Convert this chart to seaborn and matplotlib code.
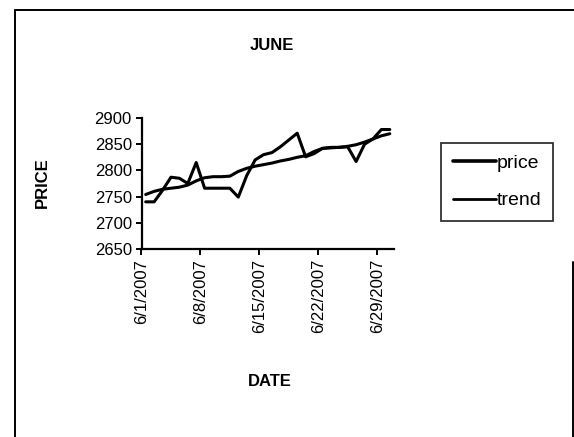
import matplotlib
matplotlib.use("Agg")
import matplotlib.pyplot as plt
import seaborn as sns
import pandas as pd
from matplotlib.lines import Line2D

# Daily closing price and its trend for June 2007 (each day plotted mid-slot)
dates = pd.date_range("2007-06-01 12:00", "2007-06-30 12:00", freq="D")
price = [2740, 2740, 2762, 2787, 2785, 2775, 2815, 2766, 2766, 2766,
         2766, 2749, 2790, 2820, 2830, 2834, 2845, 2858, 2871, 2826,
         2832, 2842, 2843, 2844, 2845, 2817, 2850, 2860, 2878, 2878]
trend = [2754, 2760, 2764, 2766, 2768, 2772, 2780, 2786, 2788, 2788,
         2789, 2798, 2804, 2808, 2811, 2814, 2818, 2821, 2825, 2828,
         2836, 2842, 2844, 2844, 2846, 2849, 2854, 2860, 2866, 2870]
tick_dates = ["2007-06-01", "2007-06-08", "2007-06-15", "2007-06-22", "2007-06-29"]
tick_labels = ["6/1/2007", "6/8/2007", "6/15/2007", "6/22/2007", "6/29/2007"]
y_ticks = [2650, 2700, 2750, 2800, 2850, 2900]

df = pd.DataFrame({"DATE": list(dates) * 2,
                   "PRICE": price + trend,
                   "series": ["price"] * len(price) + ["trend"] * len(trend)})

sns.set_style("white")
plt.rcParams["font.family"] = ["Liberation Sans", "DejaVu Sans"]
plt.rcParams.update({"text.color": "black", "axes.labelcolor": "black",
                     "xtick.color": "black", "ytick.color": "black"})

fig = plt.figure(figsize=(5.74, 4.37), dpi=100)
W, H = 574, 437
ax = fig.add_axes([141.5 / W, 1 - 249 / H, (394 - 141.5) / W, (249 - 118) / H])

sns.lineplot(data=df, x="DATE", y="PRICE", hue="series",
             palette={"price": "black", "trend": "black"},
             linewidth=2.2, ax=ax, legend=False)

ax.set_xlim(pd.Timestamp("2007-06-01"), pd.Timestamp("2007-07-01"))
ax.set_ylim(2650, 2900)
ax.set_yticks(y_ticks)
ax.set_yticklabels([str(v) for v in y_ticks], fontsize=12)
ax.set_xticks([pd.Timestamp(d) for d in tick_dates])
ax.set_xticklabels(tick_labels, rotation=90, fontsize=12, va="top", ha="center")
ax.set_xlabel("")
ax.set_ylabel("")

for side in ("top", "right"):
    ax.spines[side].set_visible(False)
for side in ("left", "bottom"):
    ax.spines[side].set_color("black")
    ax.spines[side].set_linewidth(1.6)
ax.tick_params(axis="both", direction="out", length=4, width=1.4,
               color="black", labelcolor="black", pad=3,
               left=True, bottom=True)

# Titles
fig.text(272 / W, 1 - 45 / H, "JUNE", ha="center", va="center",
         fontsize=12, fontweight="bold", color="black")
fig.text(270 / W, 1 - 381 / H, "DATE", ha="center", va="center",
         fontsize=12, fontweight="bold", color="black")
fig.text(42 / W, 1 - 183 / H, "PRICE", ha="center", va="center",
         rotation=90, fontsize=12, fontweight="bold", color="black")

# Legend
handles = [Line2D([], [], color="black", linewidth=2.6),
           Line2D([], [], color="black", linewidth=2.0)]
leg = fig.legend(handles, ["price", "trend"], loc="center",
                 bbox_to_anchor=(497 / W, 1 - 182 / H),
                 fontsize=14, frameon=True, fancybox=False, shadow=False,
                 handlelength=2.2, handletextpad=0.05, borderpad=0.6,
                 labelspacing=1.0, borderaxespad=0)
leg.get_frame().set_edgecolor("black")
leg.get_frame().set_linewidth(1.3)
for t in leg.get_texts():
    t.set_color("black")

# Chart area border
fig.add_artist(Line2D([15 / W, 15 / W], [0, 1 - 10 / H], color="black",
                      linewidth=1.4, transform=fig.transFigure))
fig.add_artist(Line2D([15 / W, 1], [1 - 10 / H, 1 - 10 / H], color="black",
                      linewidth=1.4, transform=fig.transFigure))
fig.add_artist(Line2D([572.5 / W, 572.5 / W], [0, 1 - 262 / H], color="black",
                      linewidth=1.4, transform=fig.transFigure))

fig.savefig("out.png", dpi=100)
